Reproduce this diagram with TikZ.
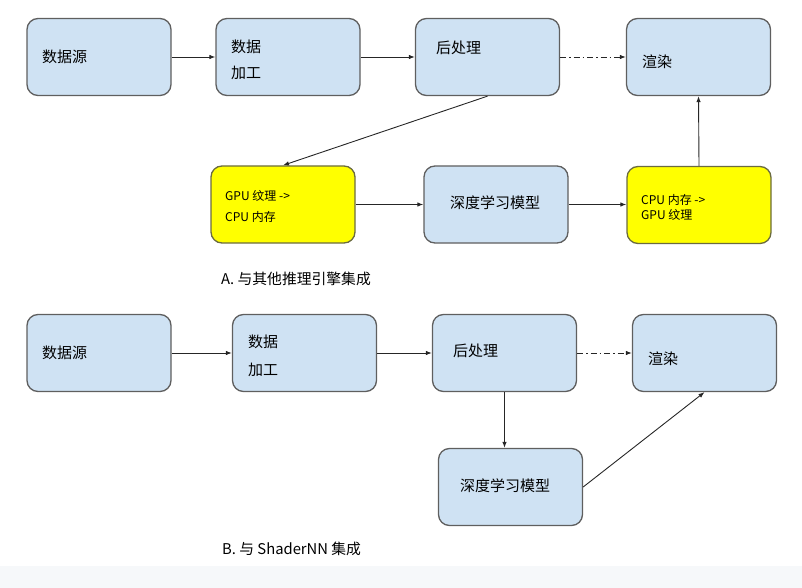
\documentclass[tikz,border=0pt]{standalone}
\usepackage{fontspec}
\setmainfont{Noto Sans CJK SC}
\usetikzlibrary{arrows.meta}
\definecolor{boxblue}{HTML}{CFE2F3}
\definecolor{boxedge}{HTML}{5F5F5F}
\definecolor{yel}{HTML}{FFFF00}
\definecolor{yeledge}{HTML}{6B6B40}
\definecolor{strip}{HTML}{F6F8FA}
\tikzset{
  bluebox/.style={draw=boxedge, line width=1.3pt, fill=boxblue, rounded corners=11pt, minimum width=144pt, minimum height=77pt, inner sep=0pt},
  yelbox/.style={draw=yeledge, line width=1.3pt, fill=yel, rounded corners=11pt, minimum width=144pt, minimum height=77pt, inner sep=0pt},
  lbl/.style={anchor=west, inner sep=0pt, font=\fontsize{15}{17}\selectfont},
  slbl/.style={anchor=west, inner sep=0pt, font=\fontsize{12}{14}\selectfont},
  captext/.style={anchor=west, inner sep=0pt, font=\fontsize{14.8}{17}\selectfont},
  conn/.style={draw=black!85, line width=0.9pt, -{Latex[length=6pt,width=4.5pt]}},
  dashdot/.style={conn, dash pattern=on 6pt off 3pt on 1.5pt off 3pt}
}
\begin{document}
\begin{tikzpicture}[x=1pt,y=-1pt]
\useasboundingbox (0,0) rectangle (802,588);
\fill[strip] (0,566) rectangle (802,588);
% ---------- A ----------
\node[bluebox] (sA) at (99,57) {};
\node[bluebox] (gA) at (288,57) {};
\node[bluebox] (pA) at (487.5,57) {};
\node[bluebox] (rA) at (698.5,57) {};
\node[yelbox]  (y1) at (283,204.5) {};
\node[bluebox] (dA) at (496,204.5) {};
\node[yelbox]  (y2) at (699,205) {};

\node[lbl] (tsA) at (42,57) {数据源};
\node[lbl] (tgA1) at (231,47) {数据};
\node[lbl] (tgA2) at (231,73) {加工};
\node[lbl] (tpA) at (436,48) {后处理};
\node[lbl] (trA) at (642,62) {渲染};
\node[lbl, anchor=center] (tdA) at (495,203) {深度学习模型};
\node[slbl] (ty1a) at (225,196) {GPU 纹理 ->};
\node[slbl] (ty1b) at (225,217) {CPU 内存};
\node[slbl] (ty2a) at (641,200) {CPU 内存 ->};
\node[slbl] (ty2b) at (641,215) {GPU 纹理};
\node[captext] (capA) at (221,279) {A. 与其他推理引擎集成};

\draw[conn] (sA.east) -- (gA.west);
\draw[conn] (gA.east) -- (pA.west);
\draw[dashdot] (pA.east) -- (rA.west);
\draw[conn] (pA.south) -- (y1.north);
\draw[conn] (y1.east) -- (y1.east -| dA.west);
\draw[conn] (dA.east) -- (dA.east -| y2.west);
\draw[conn] (y2.north) -- (rA.south);

% ---------- B ----------
\node[bluebox] (sB) at (99,353) {};
\node[bluebox] (gB) at (304.5,353) {};
\node[bluebox] (pB) at (504.5,353) {};
\node[bluebox] (rB) at (704.5,353) {};
\node[bluebox] (dB) at (510.5,487) {};

\node[lbl] (tsB) at (42,353) {数据源};
\node[lbl] (tgB1) at (248,342) {数据};
\node[lbl] (tgB2) at (248,370) {加工};
\node[lbl] (tpB) at (453,351) {后处理};
\node[lbl] (trB) at (648,359) {渲染};
\node[lbl] (tdB) at (460,486) {深度学习模型};
\node[captext] (capB) at (222,549) {B. 与 ShaderNN 集成};

\draw[conn] (sB.east) -- (gB.west);
\draw[conn] (gB.east) -- (pB.west);
\draw[dashdot] (pB.east) -- (rB.west);
\draw[conn] (pB.south) -- (pB.south |- dB.north);
\draw[conn] (dB.east) -- (rB.south);
\end{tikzpicture}
\end{document}
